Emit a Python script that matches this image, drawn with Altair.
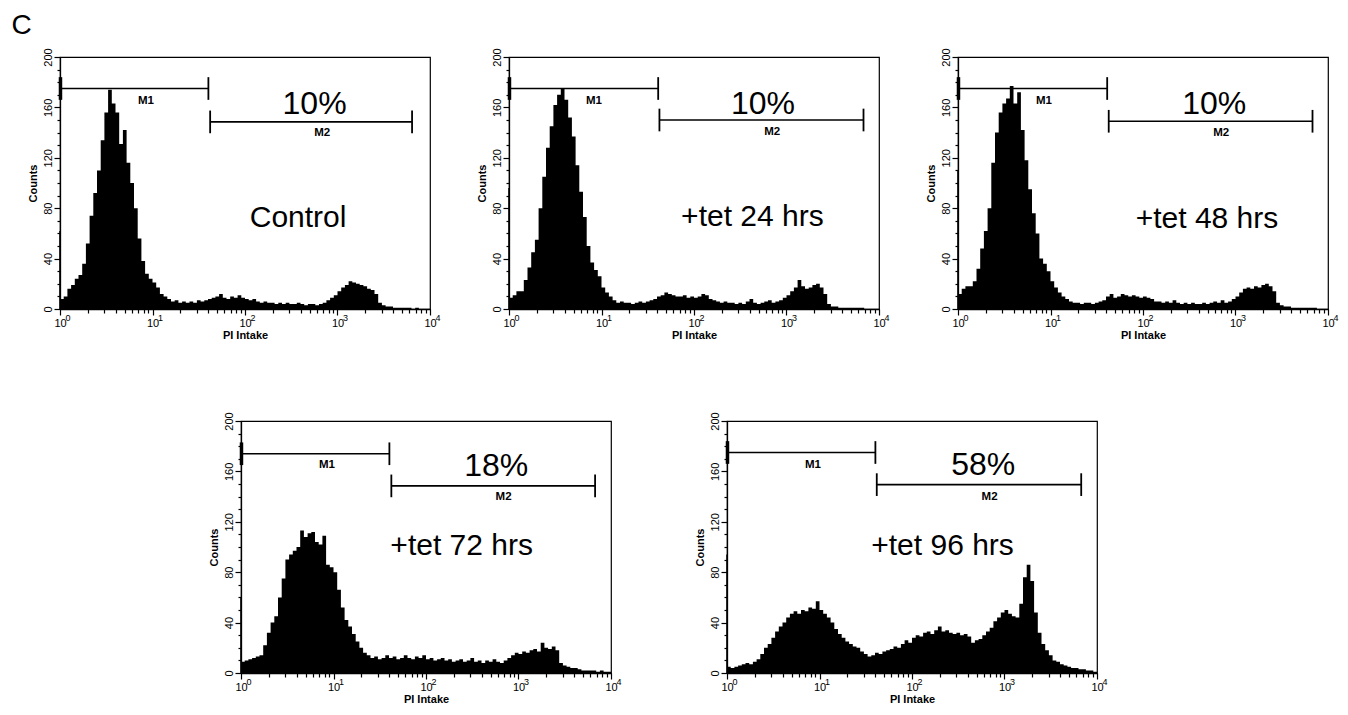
import altair as alt
import pandas as pd

BINS_PER_DECADE = 25  # histogram channels per decade of PI intensity

control_counts = [
    8, 10, 16, 19, 24, 27, 36, 52, 74, 92,
    110, 134, 156, 174, 163, 156, 131, 142, 116, 100,
    80, 56, 38, 28, 24, 21, 17, 12, 10, 8,
    6, 7, 5, 6, 5, 6, 5, 7, 6, 7,
    8, 9, 10, 12, 9, 8, 10, 9, 11, 9,
    8, 7, 8, 6, 5, 6, 5, 5, 4, 5,
    4, 5, 4, 4, 5, 4, 3, 4, 4, 3,
    4, 5, 7, 9, 11, 14, 17, 19, 22, 21,
    20, 19, 18, 16, 15, 12, 5, 3, 2, 2,
    1, 1, 1, 1, 1, 0, 1, 0, 0, 0,
    0,
]
tet24_counts = [
    9, 11, 14, 14, 23, 33, 45, 55, 80, 105,
    128, 145, 162, 170, 175, 166, 152, 137, 114, 93,
    73, 50, 37, 31, 26, 17, 13, 10, 7, 5,
    6, 5, 5, 4, 5, 6, 5, 6, 7, 8,
    10, 11, 13, 12, 11, 10, 10, 11, 9, 10,
    9, 10, 12, 11, 8, 7, 6, 5, 6, 5,
    5, 4, 5, 4, 6, 8, 5, 4, 5, 6,
    7, 5, 6, 7, 9, 11, 14, 17, 23, 18,
    16, 17, 19, 20, 17, 12, 4, 2, 2, 1,
    1, 1, 1, 1, 1, 1, 0, 0, 0, 0,
    0,
]
tet48_counts = [
    12, 16, 18, 18, 22, 32, 48, 62, 80, 116,
    140, 156, 163, 167, 177, 163, 172, 142, 118, 95,
    76, 60, 40, 36, 30, 22, 17, 13, 10, 8,
    6, 5, 5, 4, 5, 5, 4, 5, 6, 7,
    10, 12, 9, 10, 12, 11, 10, 11, 10, 9,
    10, 9, 8, 6, 6, 5, 6, 5, 7, 5,
    4, 5, 4, 5, 4, 4, 5, 4, 5, 6,
    5, 7, 5, 6, 8, 10, 13, 16, 17, 16,
    18, 17, 19, 20, 18, 14, 5, 3, 2, 2,
    1, 1, 1, 1, 1, 1, 1, 0, 0, 0,
    0,
]
tet72_counts = [
    9, 10, 11, 12, 13, 14, 22, 32, 40, 45,
    60, 75, 90, 94, 97, 100, 113, 108, 111, 112,
    104, 102, 109, 86, 84, 80, 66, 52, 42, 37,
    31, 25, 20, 16, 14, 12, 13, 11, 12, 14,
    12, 13, 11, 12, 14, 12, 11, 13, 12, 14,
    11, 12, 10, 11, 12, 10, 11, 9, 10, 11,
    9, 10, 12, 9, 10, 8, 10, 9, 11, 9,
    8, 10, 12, 14, 16, 15, 17, 16, 18, 19,
    17, 24, 20, 19, 21, 18, 8, 6, 5, 4,
    4, 3, 2, 2, 2, 2, 1, 2, 1, 1,
    1,
]
tet96_counts = [
    5, 4, 5, 6, 7, 8, 7, 9, 11, 15,
    20, 23, 28, 33, 37, 40, 44, 47, 49, 47,
    50, 49, 52, 51, 57, 50, 47, 44, 40, 35,
    31, 28, 25, 23, 21, 20, 17, 15, 13, 14,
    16, 15, 17, 18, 19, 21, 20, 23, 26, 24,
    28, 30, 29, 32, 33, 31, 34, 37, 33, 34,
    32, 31, 32, 30, 31, 29, 24, 26, 27, 30,
    33, 36, 41, 44, 48, 50, 47, 45, 44, 55,
    76, 86, 73, 48, 32, 23, 18, 14, 10, 9,
    7, 6, 5, 4, 4, 3, 3, 2, 2, 1,
    1,
]

panel_names = ["Control", "+tet 24 hrs", "+tet 48 hrs", "+tet 72 hrs", "+tet 96 hrs"]
panel_counts = [control_counts, tet24_counts, tet48_counts, tet72_counts, tet96_counts]
first_channel_counts = [62, 96, 110, 60, 94]
m2_percent = ["10%", "10%", "10%", "18%", "58%"]

# annotation anchor points in data units (PI intensity, counts)
name_x = [375, 428, 492, 243, 214]
name_y = [65, 66, 64.5, 94, 94]
pct_x = [565, 556, 589, 574, 589]
pct_y = [155, 155, 155, 156.5, 157]

# gate markers
m1_start = [1, 1, 1, 1, 1]
m1_end = [40.2, 41, 41, 40.2, 40.2]
m1_level = [175, 175, 175, 174, 175]
m2_start = [42, 42.3, 42.6, 42.2, 41.6]
m2_end = [6400, 6800, 6800, 6730, 6750]
m2_level = [148.5, 150, 149, 148.5, 149.5]
m1_label_x = [8.5, 8.3, 8.5, 8.5, 8.5]
m1_label_y = [165, 165, 165, 165, 165]
m2_label_x = [682, 700, 700, 690, 690]
m2_label_y = [140, 140.5, 140, 140, 140]
cap_half = 9

y_ticks = list(range(0, 201, 10))
x_ticks = [m * 10 ** k for k in range(4) for m in range(1, 10)] + [10000]
decades = [1, 10, 100, 1000, 10000]
decade_exponents = ["0", "1", "2", "3", "4"]

FONT = "Arial"
PW, PH = 370, 252

is_decade = "abs(log(datum.value)/LN10 - round(log(datum.value)/LN10)) < 0.001"

x_axis = alt.Axis(
    values=x_ticks, labelExpr=is_decade + " ? '10' : ''", labelFlush=False, labelOverlap=False,
    labelAlign="center",
    tickSize={"condition": {"test": is_decade, "value": 6}, "value": 4},
    labelFontSize=11, labelPadding=2, title="PI Intake", titleFontSize=11,
    titleFontWeight="bold", titlePadding=1, grid=False,
)
y_axis = alt.Axis(
    values=y_ticks, labelExpr="datum.value % 40 === 0 ? datum.label : ''",
    labelOverlap=False, labelFlush=False,
    tickSize={"condition": {"test": "datum.value % 40 === 0", "value": 6}, "value": 3},
    labelAngle=270, labelAlign="center", labelBaseline="bottom", labelFontSize=11,
    labelPadding=1, title="Counts", titleFontSize=11, titleFontWeight="bold",
    titlePadding=4, grid=False,
)


def X(field):
    return alt.X(field, scale=alt.Scale(type="log", domain=[1, 10000], nice=False), axis=x_axis)


def Y(field):
    return alt.Y(field, scale=alt.Scale(domain=[0, 200], nice=False, zero=True), axis=y_axis)


def panel(k):
    counts = panel_counts[k]
    hist = pd.DataFrame({
        "pi": [10 ** (i / BINS_PER_DECADE) for i in range(len(counts))],
        "count": counts,
    })
    area = alt.Chart(hist).mark_area(interpolate="step-after", color="black", clip=True).encode(
        x=X("pi:Q"), y=Y("count:Q"),
    )
    spike = alt.Chart(pd.DataFrame({"pi": [1], "c0": [0], "c1": [first_channel_counts[k]]})).mark_rule(
        color="black", strokeWidth=1.5
    ).encode(x=X("pi:Q"), y=Y("c0:Q"), y2="c1:Q")
    gates = pd.DataFrame({
        "a": [m1_start[k], m2_start[k]],
        "b": [m1_end[k], m2_end[k]],
        "lvl": [m1_level[k], m2_level[k]],
    })
    gate_lines = alt.Chart(gates).mark_rule(color="black", strokeWidth=1.6).encode(
        x=X("a:Q"), x2="b:Q", y=Y("lvl:Q"),
    )
    caps = pd.DataFrame({
        "pos": [m1_end[k], m2_start[k], m2_end[k]],
        "lo": [m1_level[k] - cap_half, m2_level[k] - cap_half, m2_level[k] - cap_half],
        "hi": [m1_level[k] + cap_half, m2_level[k] + cap_half, m2_level[k] + cap_half],
    })
    cap_rules = alt.Chart(caps).mark_rule(color="black", strokeWidth=1.8).encode(
        x=X("pos:Q"), y=Y("lo:Q"), y2="hi:Q",
    )
    left_cap = alt.Chart(pd.DataFrame({
        "pos": [m1_start[k] * 1.012], "lo": [m1_level[k] - cap_half], "hi": [m1_level[k] + cap_half]
    })).mark_rule(color="black", strokeWidth=3.5).encode(
        x=X("pos:Q"), y=Y("lo:Q"), y2="hi:Q",
    )
    glabels = pd.DataFrame({
        "gx": [m1_label_x[k], m2_label_x[k]],
        "gy": [m1_label_y[k], m2_label_y[k]],
        "t": ["M1", "M2"],
    })
    gate_text = alt.Chart(glabels).mark_text(
        font=FONT, fontSize=11.5, fontWeight="bold", color="black", baseline="middle", align="center"
    ).encode(x=X("gx:Q"), y=Y("gy:Q"), text="t:N")
    pct = alt.Chart(pd.DataFrame({"px": [pct_x[k]], "py": [pct_y[k]], "t": [m2_percent[k]]})).mark_text(
        font=FONT, fontSize=32, color="black", baseline="alphabetic", align="center"
    ).encode(x=X("px:Q"), y=Y("py:Q"), text="t:N")
    name = alt.Chart(pd.DataFrame({"nx": [name_x[k]], "ny": [name_y[k]], "t": [panel_names[k]]})).mark_text(
        font=FONT, fontSize=30, color="black", baseline="alphabetic", align="center"
    ).encode(x=X("nx:Q"), y=Y("ny:Q"), text="t:N")
    expo = alt.Chart(pd.DataFrame({"dec": decades, "e": decade_exponents})).mark_text(
        font=FONT, fontSize=9, color="black", baseline="top", align="left", dx=5.5
    ).encode(x=X("dec:Q"), y=alt.value(PH + 5), text="e:N")
    return alt.layer(area, spike, gate_lines, cap_rules, left_cap, gate_text, pct, name, expo).properties(
        width=PW, height=PH
    )


spacer = alt.Chart(pd.DataFrame({"v": [0]})).mark_point(opacity=0).encode(
    x=alt.X("v:Q", axis=None), y=alt.Y("v:Q", axis=None)
).properties(width=65, height=PH, view=alt.ViewBackground(strokeOpacity=0))

row1 = alt.hconcat(panel(0), panel(1), panel(2), spacing=79, bounds="flush")
row2 = alt.hconcat(spacer, panel(3), panel(4), spacing=116, bounds="flush")

chart = alt.vconcat(row1, row2, spacing=70).properties(
    title=alt.TitleParams("C", anchor="start", fontSize=28, font=FONT, fontWeight="normal",
                          dx=-15, offset=7, color="black"),
    padding={"left": 3, "top": 4, "right": 0, "bottom": 0},
).configure_view(stroke="black", strokeWidth=1.2).configure_axis(
    domainColor="black", tickColor="black", labelColor="black", titleColor="black",
    domainWidth=1.3, tickWidth=1.2, labelFont=FONT, titleFont=FONT,
)

chart.save("out.html", embed_options={"renderer": "svg", "actions": False})
